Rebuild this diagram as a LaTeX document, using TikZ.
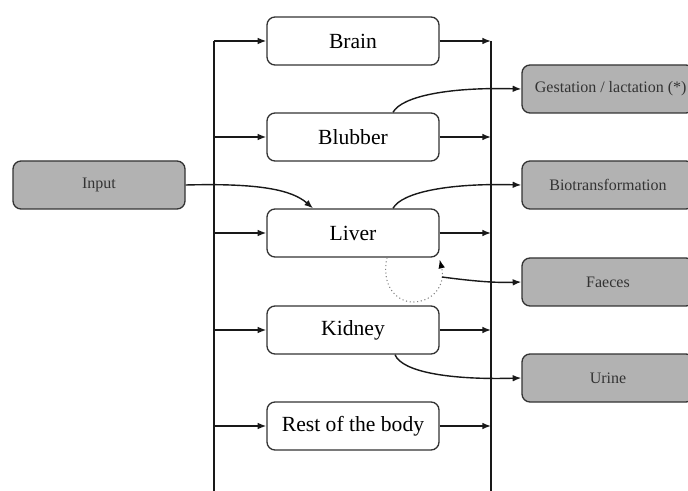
\documentclass[tikz,border=0pt]{standalone}
\usepackage{fontspec}
\setmainfont{Liberation Serif}
\usetikzlibrary{arrows.meta,calc}
\begin{document}
\begin{tikzpicture}[x=0.75pt,y=-0.75pt,
  organ/.style={draw=black!80, line width=1pt, rounded corners=6pt, minimum width=129pt, minimum height=36pt, inner sep=0pt, font=\fontsize{16.2}{18}\selectfont, fill=white},
  ext/.style={organ, fill=black!30, font=\fontsize{12}{14}\selectfont, text=black!80},
  plain/.style={line width=1.05pt, black!90},
  arr/.style={plain, -{Latex[length=6.5pt,width=5pt]}}
]
\useasboundingbox (0,0) rectangle (688,491);
\clip (0,0) rectangle (688,491);
\node[organ] (brain) at (353,41) {Brain};
\node[organ] (blubber) at (353,137) {Blubber};
\node[organ] (liver) at (353,233) {Liver};
\node[organ] (kidney) at (353,330) {Kidney};
\node[organ] (rest) at (353,426) {Rest of the body};
\node[ext] (input) at (99,185) {Input};
\node[ext] (gest) at (608,89) {\hspace*{4pt}Gestation / lactation (*)};
\node[ext] (bio) at (608,185) {Biotransformation};
\node[ext] (faeces) at (608,282) {Faeces};
\node[ext] (urine) at (608,378) {Urine};
\coordinate (Lt) at (214,41);
\coordinate (Lb) at (214,495);
\coordinate (Rt) at (491,41);
\coordinate (Rb) at (491,495);
\draw[plain] (Lt) -- (Lb);
\draw[plain] (Rt) -- (Rb);
\foreach \n in {brain,blubber,liver,kidney,rest}{
  \draw[arr] (\n.west -| Lt) -- (\n.west);
  \draw[arr] (\n.east) -- (\n.east -| Rt);
}
\draw[arr] (input.east) .. controls (260,183) and (292,190) .. ($(liver.north)+(-40,0)$);
\draw[arr] ($(blubber.north)+(40,0)$) .. controls (402,96) and (450,87) .. (gest.west);
\draw[arr] ($(liver.north)+(40,0)$) .. controls (402,192) and (450,183) .. (bio.west);
\draw[arr] ($(kidney.south)+(42,0)$) .. controls (402,372) and (450,380) .. (urine.west);
\draw[dotted, gray, line width=0.8pt, -{Latex[black,length=6.5pt,width=5pt]}] ($(liver.south)+(34,0)$) .. controls (381,285) and (396,302) .. (413,302) .. controls (432,302) and (446,286) .. ($(liver.south east)+(0,2)$);
\coordinate (loopR) at (442,277);
\draw[arr] (loopR) .. controls (472,281) and (495,283) .. (faeces.west);
\end{tikzpicture}
\end{document}
